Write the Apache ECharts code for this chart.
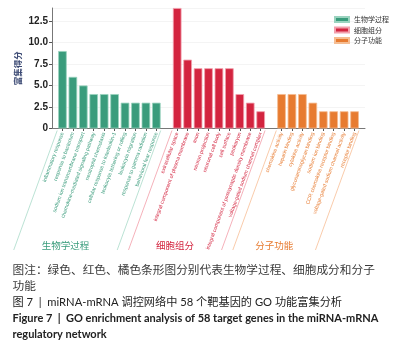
<!DOCTYPE html>
<html>
<head>
<meta charset="utf-8">
<script src="https://cdn.jsdelivr.net/npm/echarts@6/dist/echarts.min.js"></script>
<style>
  html, body { margin: 0; padding: 0; background: #fff; }
  #chart { width: 396px; height: 346px; }
</style>
</head>
<body>
<div id="chart"></div>
<script>
// GO 富集数据
const bpTerms = [
  'inflammatory response', 'response to bacterium', 'sodium ion transmembrane transport',
  'chemokine-mediated signaling pathway', 'neutrophil chemotaxis', 'cellular response to interleukin-1',
  'leukocyte tethering or rolling', 'leukocyte migration', 'response to gamma radiation',
  'behavioral fear response'
]
const bpScores = [9, 6, 5, 4, 4, 4, 3, 3, 3, 3]

const ccTerms = [
  'extracellular space', 'integral component of plasma membrane', 'axon', 'neuron projection',
  'neuronal cell body', 'cell surface', 'perikaryon',
  'integral component of postsynaptic density membrane', 'voltage-gated sodium channel complex'
]
const ccScores = [14, 8, 7, 7, 7, 7, 4, 3, 2]

const mfTerms = [
  'chemokine activity', 'heparin binding', 'cytokine activity', 'glycosaminoglycan binding',
  'sodium ion binding', 'CCR chemokine receptor binding', 'voltage-gated sodium channel activity',
  'receptor binding'
]
const mfScores = [4, 4, 4, 3, 2, 2, 2, 2]

const groupNames = ['生物学过程', '细胞组分', '分子功能']
const groupColors = ['#3a9c7c', '#d3243f', '#e77b30']
const groupBorders = ['#9bd3bf', '#f2a0ad', '#f5bd92']
const groupLines = ['#9ed6c1', '#f08f9c', '#f7b487']

const yTicks = [0, 2.5, 5, 7.5, 10, 12.5]

const captionLines = [
  '图注：绿色、红色、橘色条形图分别代表生物学过程、细胞成分和分子',
  '功能',
  '图 7  |  miRNA-mRNA 调控网络中 58 个靶基因的 GO 功能富集分析',
  'Figure 7  |  GO enrichment analysis of 58 target genes in the miRNA-mRNA',
  'regulatory network'
]

// 组装类目轴（组间留空位）
const groups = [bpTerms, ccTerms, mfTerms]
const scores = [bpScores, ccScores, mfScores]
const categories = []
const groupIndex = []   // 每组在类目轴上的起止位置
let blank = ''
const pushBlank = () => { categories.push({ value: blank, textStyle: { color: 'transparent' } }); blank += ' ' }
pushBlank()
groups.forEach((terms, g) => {
  const start = categories.length
  terms.forEach(t => categories.push({ value: t, textStyle: { color: groupColors[g] } }))
  groupIndex.push([start, categories.length - 1])
  pushBlank()
})

const series = groups.map((terms, g) => {
  const data = categories.map(() => '-')
  scores[g].forEach((v, i) => { data[groupIndex[g][0] + i] = v })
  return {
    name: groupNames[g],
    type: 'bar',
    data: data,
    barWidth: 8.6,
    barGap: '-100%',
    itemStyle: { color: groupColors[g], borderColor: groupBorders[g], borderWidth: 0.8 }
  }
})

const chart = echarts.init(document.getElementById('chart'))

const option = {
  animation: false,
  textStyle: { fontFamily: 'Liberation Sans, Noto Sans CJK SC, sans-serif' },
  legend: {
    data: groupNames,
    orient: 'vertical',
    left: 329,
    top: 11,
    itemWidth: 14,
    itemHeight: 5,
    itemGap: 3.5,
    icon: 'rect',
    textStyle: { fontSize: 7, color: '#333', fontFamily: 'Noto Sans CJK SC' }
  },
  grid: { left: 52, right: 31, top: 8, bottom: 217.5 },
  xAxis: {
    type: 'category',
    data: categories,
    boundaryGap: false,
    axisLine: { lineStyle: { color: '#777', width: 1 } },
    axisTick: {
      length: 2.5,
      lineStyle: { color: '#555' },
      interval: (idx, val) => val.trim() !== ''
    },
    axisLabel: {
      interval: 0,
      rotate: 70,
      fontSize: 5.2,
      margin: 4
    },
    splitLine: { show: false }
  },
  yAxis: {
    type: 'value',
    min: 0,
    max: 14,
    interval: 2.5,
    name: '富集得分',
    nameLocation: 'middle',
    nameGap: 30,
    nameMoveOverlap: false,
    nameRotate: 90,
    nameTextStyle: { fontSize: 8.5, color: '#3c4a74', fontWeight: 'bold', fontFamily: 'Noto Sans CJK SC' },
    axisLine: { show: true, lineStyle: { color: '#777' } },
    axisTick: { show: true, length: 3, lineStyle: { color: '#555' } },
    axisLabel: {
      fontSize: 10,
      color: '#222',
      fontWeight: 'bold',
      margin: 4,
      showMaxLabel: false,
      formatter: v => (yTicks.indexOf(v) >= 0 ? v.toFixed(v === 0 ? 0 : 1) : '')
    },
    splitLine: { show: true, lineStyle: { color: '#f4f4f4' } }
  },
  series: series
}

chart.setOption(option)

// 分组括线与组名，位置由坐标轴换算
const x0 = chart.convertToPixel({ xAxisIndex: 0 }, 0)
const step = chart.convertToPixel({ xAxisIndex: 0 }, 1) - x0
const yBase = chart.convertToPixel({ yAxisIndex: 0 }, 0)
const ang = 70 * Math.PI / 180
const yStart = yBase + 2
const yEnd = 250
const dx = (yEnd - yStart) / Math.tan(ang)

const graphics = []
groupIndex.forEach(([s, e], g) => {
  const xl = x0 + (s - 0.5) * step
  const xr = x0 + (e + 0.42) * step
  ;[xl, xr].forEach(x => {
    graphics.push({
      type: 'line',
      shape: { x1: x, y1: yStart, x2: x - dx, y2: yEnd },
      style: { stroke: groupLines[g], lineWidth: 0.7 },
      silent: true
    })
  })
  graphics.push({
    type: 'text',
    x: ((xl - dx) + (xr - dx)) / 2,
    y: 245,
    style: {
      text: groupNames[g],
      fill: groupColors[g],
      fontSize: 9.5,
      fontFamily: 'Noto Sans CJK SC',
      align: 'center',
      verticalAlign: 'middle'
    }
  })
})

// 图注文字
const capTop = [270.5, 286, 302, 318.5, 334]
const capStyle = [
  { fontSize: 11.7, fill: '#3a3a3a', fontWeight: 'normal' },
  { fontSize: 11.7, fill: '#3a3a3a', fontWeight: 'normal' },
  { fontSize: 11.2, fill: '#222', fontWeight: 'normal' },
  { fontSize: 11, fill: '#222', fontWeight: 'bold' },
  { fontSize: 11, fill: '#222', fontWeight: 'bold' }
]
captionLines.forEach((t, i) => {
  graphics.push({
    type: 'text',
    x: 12.5,
    y: capTop[i],
    style: Object.assign({
      text: t,
      fontFamily: 'Lato, Noto Sans CJK SC',
      align: 'left',
      verticalAlign: 'middle'
    }, capStyle[i])
  })
})

chart.setOption({ graphic: graphics })
</script>
</body>
</html>
